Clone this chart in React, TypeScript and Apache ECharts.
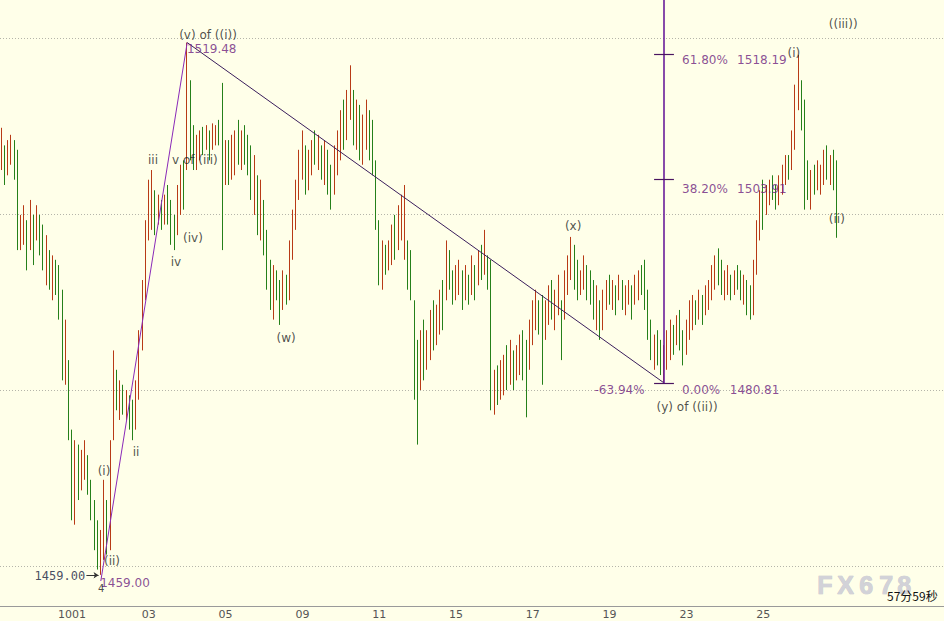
import React, { useEffect, useRef } from 'react';
import * as echarts from 'echarts';

// bar highs / lows (price), one entry per bar
const highs = [
  1509.8, 1507.8, 1508.4, 1509.0, 1508.4, 1507.3, 1499.9, 1501.0, 1499.3, 1501.6,
  1499.9, 1501.0, 1499.9, 1498.8, 1497.6, 1495.9, 1495.3, 1494.8, 1494.2, 1491.4,
  1488.0, 1483.4, 1475.5, 1474.3, 1473.8, 1473.2, 1474.3, 1472.6, 1469.8, 1467.5,
  1465.2, 1464.1, 1469.8, 1467.5, 1474.3, 1484.5, 1482.3, 1481.1, 1480.6, 1480.0,
  1479.4, 1478.9, 1481.1, 1486.8, 1492.5, 1499.3, 1503.9, 1505.0, 1502.7, 1502.2,
  1501.6, 1502.2, 1503.3, 1501.6, 1499.9, 1503.3, 1505.6, 1506.1, 1519.48, 1515.2,
  1510.1, 1509.0, 1509.5, 1509.9, 1510.1, 1509.5, 1510.3, 1510.1, 1510.7, 1514.9,
  1508.4, 1508.4, 1509.0, 1509.5, 1510.7, 1509.5, 1510.1, 1509.0, 1507.8, 1506.7,
  1504.4, 1503.9, 1501.6, 1498.2, 1494.8, 1494.2, 1493.6, 1492.5, 1493.6, 1493.1,
  1497.0, 1500.5, 1503.9, 1507.3, 1509.5, 1507.8, 1507.3, 1508.4, 1509.5, 1509.0,
  1507.8, 1508.4, 1507.3, 1505.6, 1507.8, 1509.5, 1511.8, 1513.0, 1514.1, 1516.9,
  1514.1, 1513.0, 1512.4, 1511.3, 1513.0, 1511.8, 1510.7, 1506.1, 1499.3, 1497.0,
  1496.5, 1497.0, 1498.8, 1499.9, 1501.0, 1502.2, 1503.3, 1497.0, 1495.9, 1490.2,
  1485.7, 1486.8, 1488.0, 1486.8, 1489.1, 1490.2, 1489.7, 1491.4, 1492.5, 1497.0,
  1495.9, 1493.6, 1494.2, 1494.8, 1493.6, 1494.2, 1493.1, 1495.3, 1494.2, 1495.9,
  1496.5, 1498.2, 1495.3, 1494.8, 1482.3, 1482.8, 1483.4, 1484.0, 1485.1, 1485.7,
  1484.5, 1485.1, 1486.3, 1486.8, 1485.7, 1488.0, 1490.2, 1491.4, 1490.2, 1490.8,
  1490.2, 1491.9, 1492.5, 1491.4, 1493.1, 1490.2, 1493.6, 1495.3, 1497.4, 1496.5,
  1494.8, 1493.6, 1495.3, 1494.2, 1493.6, 1492.5, 1491.9, 1490.2, 1491.4, 1492.5,
  1493.1, 1492.5, 1491.9, 1493.1, 1492.5, 1491.9, 1492.5, 1491.9, 1493.1, 1493.6,
  1494.2, 1494.8, 1491.4, 1488.0, 1486.3, 1486.8, 1485.7, 1485.1, 1486.8, 1488.0,
  1487.4, 1488.5, 1489.1, 1486.8, 1488.0, 1490.2, 1490.8, 1490.2, 1491.4, 1490.8,
  1491.9, 1492.5, 1494.2, 1495.3, 1496.1, 1494.8, 1493.6, 1494.2, 1493.1, 1493.6,
  1494.2, 1493.6, 1493.1, 1492.5, 1491.9, 1494.8, 1499.3, 1502.7, 1503.9, 1503.3,
  1503.9, 1504.4, 1503.3, 1504.4, 1505.6, 1506.7, 1506.7, 1509.5, 1514.7, 1518.1,
  1515.2, 1513.0, 1506.1, 1505.0, 1505.6, 1506.1, 1505.6, 1507.3, 1507.8, 1506.7, 1507.3, 1506.1,
];
const lows = [
  1505.0, 1503.3, 1504.4, 1505.6, 1503.9, 1495.9, 1495.9, 1496.5, 1493.6, 1495.9,
  1494.2, 1497.0, 1495.3, 1493.6, 1491.9, 1491.4, 1490.2, 1490.8, 1488.0, 1481.1,
  1480.6, 1474.3, 1465.2, 1464.7, 1467.5, 1468.6, 1469.8, 1468.1, 1465.2, 1461.8,
  1459.6, 1459.0, 1460.7, 1461.3, 1461.8, 1474.3, 1477.7, 1476.6, 1477.2, 1476.6,
  1475.5, 1474.3, 1475.5, 1478.9, 1484.5, 1490.2, 1497.0, 1498.2, 1497.6, 1498.8,
  1498.2, 1498.8, 1498.8, 1496.5, 1495.9, 1497.6, 1499.9, 1500.5, 1505.0, 1506.1,
  1505.0, 1505.0, 1506.1, 1506.7, 1507.3, 1506.1, 1507.3, 1507.8, 1507.8, 1495.9,
  1503.3, 1503.3, 1503.9, 1504.4, 1505.6, 1505.0, 1505.6, 1504.4, 1501.6, 1499.9,
  1497.6, 1497.0, 1495.3, 1491.4, 1489.1, 1488.0, 1490.2, 1487.4, 1489.1, 1489.7,
  1490.2, 1494.8, 1498.2, 1501.6, 1503.9, 1502.2, 1502.7, 1504.4, 1505.6, 1505.0,
  1503.9, 1503.3, 1502.2, 1500.5, 1502.2, 1504.4, 1506.1, 1507.3, 1508.4, 1510.7,
  1507.8, 1507.3, 1506.1, 1505.6, 1507.3, 1506.1, 1504.4, 1498.2, 1491.9, 1491.4,
  1493.1, 1493.6, 1494.2, 1494.8, 1495.9, 1497.0, 1494.8, 1491.4, 1490.2, 1478.9,
  1473.8, 1480.0, 1481.1, 1482.3, 1483.4, 1484.5, 1485.1, 1486.3, 1486.8, 1490.2,
  1491.4, 1489.7, 1490.2, 1490.8, 1489.1, 1490.2, 1489.7, 1490.8, 1490.2, 1491.9,
  1492.5, 1493.1, 1491.4, 1477.7, 1477.2, 1478.3, 1478.9, 1479.4, 1480.0, 1480.6,
  1480.0, 1481.1, 1481.7, 1481.1, 1476.9, 1482.3, 1485.1, 1486.8, 1486.3, 1480.6,
  1485.7, 1487.4, 1488.0, 1486.8, 1488.5, 1483.4, 1488.0, 1490.8, 1492.5, 1491.4,
  1490.2, 1490.8, 1491.4, 1490.2, 1489.7, 1488.0, 1486.8, 1485.7, 1486.8, 1489.1,
  1489.7, 1489.1, 1488.5, 1490.2, 1489.1, 1488.5, 1489.7, 1488.0, 1489.7, 1490.2,
  1490.8, 1489.1, 1485.7, 1483.4, 1482.3, 1482.8, 1481.7, 1480.81, 1482.3, 1483.4,
  1484.0, 1485.1, 1484.5, 1482.8, 1484.0, 1485.7, 1486.8, 1487.4, 1488.0, 1487.4,
  1488.5, 1489.1, 1490.2, 1491.4, 1491.9, 1490.8, 1490.2, 1490.8, 1490.2, 1490.8,
  1491.4, 1490.2, 1489.7, 1488.5, 1488.0, 1488.5, 1493.1, 1497.0, 1498.2, 1499.9,
  1501.0, 1501.6, 1500.5, 1501.0, 1502.2, 1503.3, 1503.9, 1505.0, 1507.3, 1511.8,
  1509.5, 1500.5, 1501.6, 1500.5, 1502.2, 1502.7, 1502.2, 1503.3, 1503.9, 1503.3, 1502.7, 1497.3,
];
// u = rising bar (red), d = falling bar (green)
const dirs =
  'uduudduudu' + 'duddududdd' + 'udduduuddd' + 'duuduududu' + 'dduuuuuudu' +
  'duddduudud' + 'duududuudd' + 'uduududddu' + 'duddduddud' + 'uuuuuduudu' +
  'dudduuuduu' + 'duduuddddu' + 'duuduuuddd' + 'duduuduudu' + 'dduudududu' +
  'dudduduudu' + 'duudduuudd' + 'uuduuduuud' + 'duuddduduu' + 'dududuuduu' +
  'ddddudduuu' + 'dudduuudud' + 'uuuudduudu' + 'ddudduuudu' + 'udduuuduuu' +
  'ddduduuududd';

const slotCount = 295;
const tickIdx = [22, 46, 70, 94, 118, 142, 166, 190, 214, 238];
const tickText = ['1001', '03', '05', '09', '11', '15', '17', '19', '23', '25'];
const gridLevels = [1460, 1480, 1500, 1520];

// wave / fibonacci construction
const waveStart = [31, 1458.3];
const swingHigh = [58, 1519.48];
const swingLow = [207, 1480.81];
const fibLevels = [1518.19, 1503.91, 1480.81];

// dark annotation labels
const noteText = ['(v) of ((i))', 'iii', 'v of (iii)', '(iv)', 'iv', 'ii', '(i)', '(ii)', '(w)', '(x)', '(y) of ((ii))', '(i)', '((iii))', '(ii)'];
const noteX = [64.5, 47.3, 60.4, 59.8, 54.5, 42, 32, 34.5, 88.9, 178.6, 214.2, 247.6, 263, 261];
const noteY = [1520.3, 1506.1, 1506.1, 1497.3, 1494.5, 1473.0, 1470.8, 1460.6, 1485.9, 1498.6, 1478.1, 1518.3, 1521.6, 1499.4];

// purple price / percent labels (left-aligned where noted)
const fibText = ['1519.48', '1459.00', '-63.94%', '0.00%', '1480.81', '61.80%', '1518.19', '38.20%', '1503.91'];
const fibX = [57.9, 30.8, 193.1, 218.6, 235.3, 219.8, 237.6, 219.8, 237.6];
const fibY = [1518.7, 1458.1, 1480.0, 1480.0, 1480.0, 1517.5, 1517.5, 1502.9, 1502.9];
const fibAlign = ['left', 'left', 'center', 'center', 'center', 'center', 'center', 'center', 'center'];

const UP = '#B83A16';
const DOWN = '#25801A';
const PURPLE = '#6C1E7E';

function buildOption() {
  const cats = Array.from({ length: slotCount }, (_, i) => 'b' + i);
  const candles = highs.map((h, i) => {
    const l = lows[i];
    return dirs[i] === 'u' ? [l, h, l, h] : [h, l, l, h];
  });
  const labelFont = { fontFamily: 'DejaVu Sans', fontSize: 12 };
  const notes = noteText.map((t, i) => ({
    value: [noteX[i], noteY[i]],
    label: { formatter: t, color: '#1e1e1e', align: 'center' },
  }));
  const fibNotes = fibText.map((t, i) => ({
    value: [fibX[i], fibY[i]],
    label: { formatter: t, color: PURPLE, align: fibAlign[i] },
  }));
  const lowNote = [
    { value: [26.1, 1458.9], label: { formatter: '1459.00', color: '#14203e', align: 'right', fontFamily: 'DejaVu Sans Mono' } },
    { value: [31.1, 1457.4], label: { formatter: '4', color: '#202020', align: 'center', fontSize: 10 } },
  ];
  return {
    animation: false,
    backgroundColor: '#FFFFE9',
    grid: { left: 0, right: 0, top: 0, bottom: 15, containLabel: false },
    xAxis: [
      {
        type: 'category',
        data: cats,
        boundaryGap: true,
        axisLine: { lineStyle: { color: '#9a9a9a', width: 1 } },
        axisTick: { show: false },
        splitLine: { show: false },
        axisLabel: {
          interval: (index: number) => tickIdx.indexOf(index) >= 0,
          formatter: (_v: string, index: number) => {
            const k = tickIdx.indexOf(index);
            return k >= 0 ? tickText[k] : '';
          },
          color: '#555',
          fontSize: 11,
          fontFamily: 'DejaVu Sans',
          margin: 3,
        },
      },
      { type: 'value', min: -0.5, max: slotCount - 0.5, show: false },
    ],
    yAxis: {
      type: 'value',
      min: 1455.46,
      max: 1524.32,
      show: false,
      splitLine: { show: false },
    },
    series: [
      {
        type: 'candlestick',
        xAxisIndex: 0,
        data: candles,
        barWidth: 1.3,
        itemStyle: { color: UP, color0: DOWN, borderColor: UP, borderColor0: DOWN, borderWidth: 1 },
        markLine: {
          silent: true,
          symbol: 'none',
          label: { show: false },
          lineStyle: { color: '#b5b5aa', type: [1, 2], width: 1 },
          data: gridLevels.map((v) => ({ yAxis: v })),
          z: 1,
        },
        z: 3,
      },
      {
        type: 'lines',
        coordinateSystem: 'cartesian2d',
        xAxisIndex: 1,
        silent: true,
        z: 4,
        lineStyle: { opacity: 1, curveness: 0 },
        data: [
          { coords: [waveStart, swingHigh], lineStyle: { color: '#8A2AB8', width: 1, opacity: 1 } },
          { coords: [swingHigh, swingLow], lineStyle: { color: '#3A1E5C', width: 1, opacity: 1 } },
          { coords: [swingLow, [swingLow[0], 1530]], lineStyle: { color: '#6A1E9A', width: 1.6, opacity: 1 } },
          ...fibLevels.map((v) => ({ coords: [[swingLow[0] - 3.1, v], [swingLow[0] + 3.1, v]], lineStyle: { color: '#4A1460', width: 1.2, opacity: 1 } })),
        ],
      },
      {
        type: 'lines',
        coordinateSystem: 'cartesian2d',
        xAxisIndex: 1,
        silent: true,
        z: 4,
        symbol: ['none', 'arrow'],
        symbolSize: 5,
        data: [{ coords: [[26.5, 1458.95], [30.3, 1458.95]] }],
        lineStyle: { color: '#333', width: 1, opacity: 1 },
      },
      {
        type: 'scatter',
        xAxisIndex: 1,
        symbolSize: 1,
        silent: true,
        itemStyle: { color: 'rgba(0,0,0,0)' },
        label: { show: true, position: 'inside', verticalAlign: 'middle', ...labelFont },
        data: [...notes, ...fibNotes, ...lowNote],
        z: 6,
      },
    ],
    graphic: [
      ...['F', 'X', '6', '7', '8'].map((ch, k) => ({
        type: 'text',
        left: [817, 837, 859, 879, 897][k],
        top: 572,
        silent: true,
        z: 1,
        style: {
          text: ch,
          font: 'bold 25px "Liberation Sans"',
          fill: '#D2D2D8',
          stroke: '#C2C2CA',
          lineWidth: 0.7,
          textShadowColor: 'rgba(255,255,255,0.9)',
          textShadowOffsetX: -1,
          textShadowOffsetY: -1,
          textShadowBlur: 0,
        },
      })),
      {
        type: 'text',
        left: 887,
        top: 589,
        z: 10,
        style: { text: '57分59秒', font: '12px "Noto Sans CJK SC"', fill: '#111' },
      },
    ],
  };
}

export default function App() {
  const ref = useRef<HTMLDivElement>(null);
  useEffect(() => {
    if (!ref.current) return;
    const chart = echarts.init(ref.current, null, { renderer: 'svg' });
    chart.setOption(buildOption() as any);
    return () => chart.dispose();
  }, []);
  return (
    <div
      ref={ref}
      style={{ position: 'fixed', left: 0, top: 0, width: 944, height: 621, background: '#FFFFE9' }}
    />
  );
}
